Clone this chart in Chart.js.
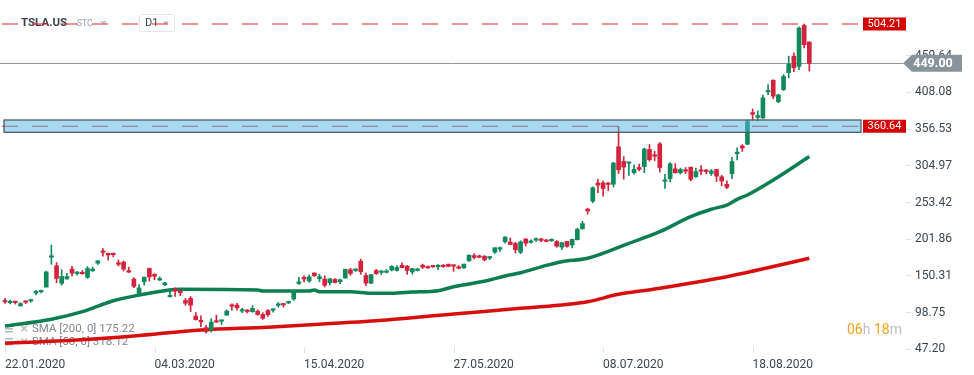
<!DOCTYPE html>
<html>
<head>
<meta charset="utf-8">
<title>TSLA.US D1</title>
<script src="https://cdn.jsdelivr.net/npm/chart.js@4.4.0/dist/chart.umd.min.js"></script>
<style>
  html, body { margin: 0; padding: 0; background: #ffffff; }
  canvas { display: block; }
</style>
</head>
<body>
<canvas id="tslaChart" width="974" height="375"></canvas>
<script>
// daily candles 22.01.2020 -> 02.09.2020 (split adjusted)
const openP = [
  114.38,112.85,114.13,108.40,113.70,115.14,126.48,128.00,134.74,176.59,
  164.65,139.98,146.11,160.00,153.76,155.57,148.37,157.44,168.32,184.70,
  182.20,181.40,167.80,169.80,156.50,146.00,125.94,142.25,161.00,152.79,
  144.75,138.00,121.08,131.89,128.04,116.18,119.00,93.90,88.00,77.80,
  74.94,87.64,86.72,95.46,109.05,109.48,101.00,102.05,100.25,100.80,
  96.21,101.86,102.24,109.00,110.84,112.42,118.03,139.79,148.40,143.39,
  154.46,146.54,146.02,140.80,145.52,142.16,147.52,159.13,158.03,171.04,
  151.00,140.20,157.96,155.30,155.44,158.75,158.10,165.40,164.17,156.00,
  158.07,165.56,163.03,164.10,163.20,164.43,166.90,164.17,162.70,161.75,
  171.60,178.94,177.62,177.98,175.57,183.80,188.00,198.38,198.04,196.00,
  183.56,202.37,197.47,200.60,202.41,199.99,199.78,198.82,190.85,198.96,
  193.80,201.30,216.60,244.30,255.34,281.00,281.00,279.40,279.20,331.80,
  311.20,308.60,295.43,302.69,303.80,327.99,319.80,335.79,283.20,287.00,
  300.80,295.36,297.60,303.00,289.84,299.00,298.60,294.35,299.91,289.60,
  279.20,294.00,322.14,333.00,335.40,379.76,373.00,372.14,408.80,425.25,
  394.98,412.00,436.00,459.02,444.61,502.14,478.99
];
const highP = [
  118.90,116.40,114.77,112.89,115.36,117.96,130.18,130.60,157.23,193.80,
  169.20,159.17,153.95,164.00,156.70,157.95,163.60,162.59,172.00,188.96,
  182.40,182.61,172.70,171.32,162.66,147.95,138.12,148.74,161.40,153.30,
  149.15,141.40,132.60,133.60,130.72,118.90,121.51,98.97,94.37,80.97,
  90.40,95.40,88.40,102.74,111.40,112.00,105.16,103.33,108.59,102.79,
  98.85,103.10,104.20,113.00,111.44,115.04,130.40,148.38,150.63,151.89,
  154.99,153.11,150.67,146.80,146.80,146.15,159.90,161.00,160.64,173.96,
  154.55,152.40,159.78,157.96,159.28,164.80,164.80,168.66,165.20,160.67,
  161.01,166.94,164.41,165.20,166.50,166.36,166.92,165.54,164.95,167.00,
  179.80,181.73,179.59,179.15,177.30,190.00,190.89,205.50,203.79,197.60,
  199.77,202.58,201.00,203.81,203.19,201.78,202.40,200.18,197.20,199.00,
  202.00,217.54,227.07,245.60,275.56,285.90,283.45,281.71,309.78,360.64,
  318.00,310.00,306.34,307.50,330.00,335.00,325.28,337.80,293.00,309.59,
  308.19,301.88,302.65,303.41,301.96,305.49,299.97,300.00,299.97,291.58,
  284.00,317.00,330.24,334.62,369.17,384.78,382.20,404.40,419.10,425.80,
  405.58,433.20,459.12,463.70,500.14,504.21,479.04
];
const lowP = [
  111.82,111.12,110.85,107.86,111.62,113.49,123.60,126.50,134.70,166.78,
  140.82,137.40,146.00,150.48,151.60,152.67,147.00,157.10,166.47,178.00,
  172.40,177.19,164.40,157.40,155.22,133.80,122.30,137.33,143.22,144.95,
  143.61,136.85,121.00,121.60,122.60,109.25,100.40,88.43,79.20,70.10,
  71.69,85.16,82.10,94.80,102.22,102.45,98.81,98.25,99.40,95.02,
  89.28,93.67,99.59,106.47,106.67,111.42,116.11,138.49,142.00,141.34,
  149.53,142.44,134.76,137.74,140.63,139.64,147.00,151.34,156.63,152.70,
  136.61,139.60,152.44,152.22,154.47,157.40,157.00,161.60,152.66,152.80,
  157.31,160.78,161.22,162.36,159.20,162.40,163.14,157.00,160.34,160.84,
  170.82,174.20,176.02,171.69,173.24,181.83,184.79,196.50,194.40,182.52,
  181.70,192.48,196.51,198.89,198.27,198.20,198.80,190.63,187.43,190.97,
  189.70,200.75,216.10,237.12,253.21,267.34,262.27,270.26,275.20,294.22,
  286.20,291.40,293.20,298.00,295.44,311.60,312.40,296.00,273.31,282.60,
  294.80,293.44,294.20,284.00,288.88,292.40,293.66,291.42,283.00,277.00,
  273.00,287.00,313.45,325.20,334.57,369.02,368.20,371.49,405.00,399.42,
  393.60,410.73,428.50,437.30,440.11,470.51,438.00
];
const closeP = [
  113.91,114.44,112.96,111.60,113.38,116.20,128.16,130.11,156.00,177.41,
  146.94,149.79,149.61,154.26,154.88,153.46,160.80,160.01,171.68,183.48,
  179.88,180.20,166.76,159.98,155.76,135.80,133.60,148.72,149.10,149.90,
  144.91,140.70,121.60,129.07,126.85,112.11,109.32,89.01,86.04,72.24,
  85.53,85.51,86.86,101.00,107.85,105.63,102.87,100.43,104.80,96.31,
  90.89,96.00,103.25,109.09,109.77,114.60,130.19,141.98,145.97,149.04,
  150.78,149.27,137.34,146.42,141.13,145.03,159.75,153.82,160.10,156.38,
  140.26,152.24,153.64,156.52,156.01,163.88,162.26,161.88,158.19,160.67,
  159.83,162.73,161.60,163.11,165.52,163.38,163.77,164.05,161.16,167.00,
  179.62,176.31,176.59,172.88,177.13,189.98,188.13,205.01,194.57,187.06,
  198.18,196.43,198.36,200.79,200.18,198.86,200.36,192.17,197.20,191.95,
  201.87,215.96,223.93,241.73,274.32,277.97,273.18,278.86,308.93,299.41,
  303.36,309.20,300.13,300.17,328.60,313.67,318.47,302.61,283.40,307.92,
  295.30,299.82,297.50,286.15,297.00,297.40,297.00,297.92,290.54,283.71,
  274.88,310.95,324.20,330.14,367.13,377.42,375.71,400.37,410.00,402.84,
  404.67,430.63,447.75,442.68,498.32,475.05,449.00
];

// SMA 50 (green) at some candles
const sma50Idx = [0, 9, 15, 21, 26, 31, 34, 49, 50, 59, 60, 61, 67, 71, 75, 79, 84, 87, 90, 94,
  97, 100, 105, 108, 113, 121, 127, 133, 137, 140, 142, 144, 149, 156];
const sma50Val = [80.1, 89.5, 100.2, 115.6, 123.6, 129.7, 131.6, 130.6, 129.2, 129.2, 130.6, 128.3,
  128.3, 126.0, 126.0, 127.8, 129.7, 135.3, 139.1, 144.7, 150.3, 154.9, 165.3, 170.4, 175.2,
  196.2, 212.5, 233.6, 244.0, 250.0, 258.0, 264.1, 285.1, 318.12];

// SMA 200 (red)
const sma200Idx = [0, 14, 25, 38, 51, 61, 74, 87, 100, 113, 119, 126, 140, 146, 156];
const sma200Val = [55.8, 60.4, 66.0, 74.5, 78.3, 82.5, 88.5, 96.9, 104.9, 114.2, 124.6, 132.0,
  149.3, 158.7, 175.22];

const xTickIdx = [0, 29, 58, 87, 116, 145];
const xTickLabels = ['22.01.2020', '04.03.2020', '15.04.2020', '27.05.2020', '08.07.2020', '18.08.2020'];
const yTicks = [47.20, 98.75, 150.31, 201.86, 253.42, 304.97, 356.53, 408.08, 459.64];

const topLevel = 504.21;
const lastPrice = 449.00;
const zoneLevel = 360.64;
const zoneTop = 369.4;
const zoneBottom = 352.1;

const UP = '#108a5c';
const DOWN = '#d5223c';

const candleColors = closeP.map((c, i) => c >= openP[i] ? UP : DOWN);
const wicks = lowP.map((l, i) => ({ x: i, y: [l, highP[i]] }));
const bodies = openP.map((o, i) => ({ x: i, y: [o, closeP[i]] }));
const sma50 = sma50Idx.map((x, i) => ({ x: x, y: sma50Val[i] }));
const sma200 = sma200Idx.map((x, i) => ({ x: x, y: sma200Val[i] }));

Chart.defaults.font.family = 'Roboto';

// the drawing bits xStation puts on top of the chart
const overlay = {
  id: 'overlay',
  beforeDatasetsDraw(chart) {
    const ctx = chart.ctx;
    const ys = chart.scales.y;
    const area = chart.chartArea;
    ctx.save();

    // SMA legend, bottom left
    const rows = [['SMA [200, 0] 175.22', 329], ['SMA [50, 0] 318.12', 342]];
    rows.forEach(r => {
      const ty = r[1];
      ctx.fillStyle = '#b4b9bd';
      ctx.fillRect(5, ty - 4, 8, 1.5);
      ctx.fillRect(5, ty - 1, 8, 1.5);
      ctx.fillRect(5, ty + 2, 8, 1.5);
      ctx.font = 'bold 10px Roboto';
      ctx.textBaseline = 'middle';
      ctx.fillText('\u2715', 20, ty);
      ctx.fillStyle = '#80878d';
      ctx.font = '11.5px Roboto';
      ctx.fillText(r[0], 32, ty + 0.5);
    });

    // header
    ctx.textBaseline = 'middle';
    ctx.fillStyle = '#37434e';
    ctx.font = 'bold 11.5px Roboto';
    ctx.fillText('TSLA.US', 21, 23);
    ctx.fillStyle = '#93a3af';
    ctx.font = '8.5px Roboto';
    ctx.fillText('STC', 77, 24);
    ctx.fillStyle = '#c3cacf';
    ctx.beginPath();
    ctx.moveTo(100, 21); ctx.lineTo(107, 21); ctx.lineTo(103.5, 25); ctx.closePath(); ctx.fill();
    ctx.strokeStyle = '#e2e6e9';
    ctx.lineWidth = 1;
    ctx.beginPath();
    ctx.roundRect(139.5, 14.5, 35, 17, 2);
    ctx.stroke();
    ctx.fillStyle = '#37434e';
    ctx.font = '11px Roboto';
    ctx.fillText('D1', 145, 23.5);
    ctx.fillStyle = '#b0b8be';
    ctx.beginPath();
    ctx.moveTo(163, 21.5); ctx.lineTo(169, 21.5); ctx.lineTo(166, 25); ctx.closePath(); ctx.fill();

    // last price line
    const pY = Math.round(ys.getPixelForValue(lastPrice)) + 0.5;
    ctx.strokeStyle = '#8d969b';
    ctx.lineWidth = 1;
    ctx.beginPath();
    ctx.moveTo(area.left, pY);
    ctx.lineTo(area.right - 3, pY);
    ctx.stroke();

    // dashed levels
    ctx.setLineDash([16, 14]);
    ctx.strokeStyle = '#d9262b';
    ctx.lineWidth = 1.2;
    [topLevel, zoneLevel].forEach(v => {
      const ly = ys.getPixelForValue(v);
      ctx.beginPath();
      ctx.moveTo(area.left + 2, ly);
      ctx.lineTo(area.right - 44, ly);
      ctx.stroke();
    });
    ctx.restore();
  },
  afterDatasetsDraw(chart) {
    const ctx = chart.ctx;
    const ys = chart.scales.y;
    const xs = chart.scales.x;
    const area = chart.chartArea;
    ctx.save();

    // support / resistance zone
    const zt = ys.getPixelForValue(zoneTop);
    const zb = ys.getPixelForValue(zoneBottom);
    ctx.fillStyle = 'rgba(80, 180, 226, 0.5)';
    ctx.fillRect(area.left + 4, zt, area.right - 49, zb - zt);
    ctx.strokeStyle = '#4a5c67';
    ctx.lineWidth = 1.3;
    ctx.strokeRect(area.left + 4, zt, area.right - 49, zb - zt);

    // red price tags
    ctx.font = '11px Roboto';
    ctx.textAlign = 'center';
    ctx.textBaseline = 'middle';
    [topLevel, zoneLevel].forEach(v => {
      const ly = ys.getPixelForValue(v);
      ctx.fillStyle = '#d50000';
      ctx.fillRect(area.right - 43, ly - 6.5, 43, 13);
      ctx.fillStyle = '#ffffff';
      ctx.fillText(v.toFixed(2), area.right - 21.5, ly + 0.5);
    });

    // last price tag
    const pY = ys.getPixelForValue(lastPrice);
    const tx = area.right - 3;
    ctx.fillStyle = '#89949a';
    ctx.beginPath();
    ctx.moveTo(tx, pY);
    ctx.lineTo(tx + 9, pY - 8.5);
    ctx.lineTo(tx + 59, pY - 8.5);
    ctx.lineTo(tx + 59, pY + 8.5);
    ctx.lineTo(tx + 9, pY + 8.5);
    ctx.closePath();
    ctx.fill();
    ctx.fillStyle = '#ffffff';
    ctx.font = 'bold 12.5px Roboto';
    ctx.fillText(lastPrice.toFixed(2), tx + 30, pY + 0.5);

    // candle countdown
    ctx.textAlign = 'left';
    ctx.font = '14px Roboto';
    let cx = 847;
    [['06', '#f5a11c'], ['h', '#bcc0c3'], [' 18', '#f5a11c'], ['m', '#bcc0c3']].forEach(p => {
      ctx.fillStyle = p[1];
      ctx.fillText(p[0], cx, 330);
      cx += ctx.measureText(p[0]).width;
    });

    // small date tick marks
    ctx.strokeStyle = '#e4e4e4';
    ctx.lineWidth = 1;
    xTickIdx.forEach(v => {
      const px = Math.round(xs.getPixelForValue(v)) + 0.5;
      ctx.beginPath();
      ctx.moveTo(px, area.bottom - 3);
      ctx.lineTo(px, area.bottom + 3);
      ctx.stroke();
    });
    ctx.restore();
  }
};

const ctx = document.getElementById('tslaChart').getContext('2d');
const tslaChart = new Chart(ctx, {
  type: 'bar',
  data: {
    datasets: [
      {
        label: 'body',
        data: bodies,
        backgroundColor: candleColors,
        barThickness: 4,
        grouped: false,
        minBarLength: 1.5,
        borderWidth: 0,
        order: 0
      },
      {
        label: 'wick',
        data: wicks,
        backgroundColor: candleColors,
        barThickness: 1,
        grouped: false,
        borderWidth: 0,
        order: 1
      },
      {
        type: 'line',
        label: 'SMA 50',
        data: sma50,
        borderColor: '#0c7e52',
        borderWidth: 3.5,
        pointRadius: 0,
        cubicInterpolationMode: 'monotone',
        order: 2
      },
      {
        type: 'line',
        label: 'SMA 200',
        data: sma200,
        borderColor: '#d80f0f',
        borderWidth: 3.5,
        pointRadius: 0,
        cubicInterpolationMode: 'monotone',
        order: 3
      }
    ]
  },
  options: {
    responsive: false,
    animation: false,
    layout: { padding: 0 },
    plugins: {
      legend: { display: false },
      tooltip: { enabled: false }
    },
    scales: {
      x: {
        type: 'linear',
        offset: false,
        min: -0.97,
        max: 174.75,
        grid: { display: false, offset: false },
        border: { display: false },
        afterFit: s => { s.height = 25; s.paddingLeft = 0; s.paddingRight = 0; },
        afterBuildTicks: s => { s.ticks = xTickIdx.map(v => ({ value: v })); },
        ticks: {
          autoSkip: false,
          maxRotation: 0,
          align: 'start',
          padding: 0,
          color: '#3a4550',
          font: { size: 12 },
          callback: v => xTickLabels[xTickIdx.indexOf(v)]
        }
      },
      y: {
        position: 'right',
        beginAtZero: false,
        min: 46.39,
        max: 537.9,
        border: { display: false },
        grid: { drawOnChartArea: false, drawTicks: true, tickLength: 5, color: '#dedede' },
        afterFit: s => { s.width = 68; s.paddingTop = 0; s.paddingBottom = 0; },
        afterBuildTicks: s => { s.ticks = yTicks.map(v => ({ value: v })); },
        ticks: {
          padding: 4,
          color: '#3a4550',
          font: { size: 12 },
          callback: v => v.toFixed(2)
        }
      }
    }
  },
  plugins: [overlay]
});
</script>
</body>
</html>
